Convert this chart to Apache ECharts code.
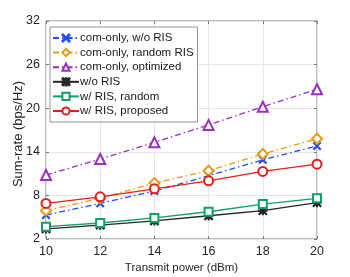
<!DOCTYPE html>
<html><head><meta charset="utf-8">
<script src="https://cdn.jsdelivr.net/npm/echarts@6/dist/echarts.min.js"></script>
<style>html,body{margin:0;padding:0;background:#fff}#c{width:350px;height:277px}</style>
</head><body><div id="c"></div>
<script>
const powers = [10, 12, 14, 16, 18, 20];
const xTicks = [10, 12, 14, 16, 18, 20];
const yTicks = [2, 8, 14, 20, 26, 32];
const seriesNames = ['com-only, w/o RIS', 'com-only, random RIS', 'com-only, optimized', 'w/o RIS', 'w/ RIS, random', 'w/ RIS, proposed'];
const comWoRIS = [5.3, 6.9, 8.6, 10.7, 12.9, 14.8];
const comRandom = [5.9, 7.6, 9.7, 11.4, 13.7, 15.8];
const comOpt = [10.8, 13.0, 15.3, 17.7, 20.2, 22.6];
const woRIS = [3.4, 3.9, 4.5, 5.2, 5.9, 7.0];
const wRandom = [3.7, 4.2, 4.9, 5.75, 6.8, 7.6];
const wProposed = [6.9, 7.8, 8.9, 10.0, 11.3, 12.3];

const X_PATH = 'path://M0,0.8L0.8,0L5,4.2L9.2,0L10,0.8L5.8,5L10,9.2L9.2,10L5,5.8L0.8,10L0,9.2L4.2,5Z';
const STAR_PATH = 'path://M0,0.8L0.8,0L5,4.2L9.2,0L10,0.8L5.8,5L10,9.2L9.2,10L5,5.8L0.8,10L0,9.2L4.2,5Z M4.5,0L5.5,0L5.5,10L4.5,10Z M0,4.5L10,4.5L10,5.5L0,5.5Z';

const dashDot = [6, 3, 1.5, 3];
const styles = [
  {c: '#1f4cff', sym: X_PATH, size: 7, dash: dashDot},
  {c: '#e89a14', sym: 'emptyDiamond', size: 10, dash: dashDot},
  {c: '#9b2dbf', sym: 'emptyTriangle', size: 10, dash: dashDot},
  {c: '#262626', sym: STAR_PATH, size: 8, dash: 'solid'},
  {c: '#10a065', sym: 'emptyRect', size: 8, dash: 'solid'},
  {c: '#e0201c', sym: 'emptyCircle', size: 9, dash: 'solid'}
];
const values = [comWoRIS, comRandom, comOpt, woRIS, wRandom, wProposed];

const font = 'Liberation Sans, Arial, sans-serif';
const series = values.map((v, i) => ({
  name: seriesNames[i],
  type: 'line',
  data: powers.map((p, j) => [p, v[j]]),
  symbol: styles[i].sym,
  symbolSize: styles[i].size,
  showAllSymbol: true,
  lineStyle: {color: styles[i].c, width: 1.3, type: styles[i].dash},
  itemStyle: {color: styles[i].c, borderColor: styles[i].c, borderWidth: 1.3},
  emphasis: {disabled: true},
  z: 3 + i
}));

const chart = echarts.init(document.getElementById('c'), null, {renderer: 'canvas'});
const baseX = {
  type: 'value', min: xTicks[0], max: xTicks[xTicks.length - 1], interval: xTicks[1] - xTicks[0]
};
const baseY = {
  type: 'value', min: yTicks[0], max: yTicks[yTicks.length - 1], interval: yTicks[1] - yTicks[0]
};
chart.setOption({
  animation: false,
  backgroundColor: '#fff',
  grid: {left: 46, right: 33, top: 21, bottom: 38, show: true, borderColor: '#7a7a7a', borderWidth: 1,
         containLabel: false, outerBoundsMode: 'none'},
  legend: {
    orient: 'vertical', left: 50, top: 27,
    data: seriesNames,
    itemWidth: 26, itemHeight: 9, itemGap: 2.6,
    padding: [5, 4, 5, 2],
    backgroundColor: '#fff', borderColor: '#7a7a7a', borderWidth: 0.8,
    textStyle: {fontFamily: font, fontSize: 11.5, color: '#1a1a1a', padding: [0, 0, 0, -4]}
  },
  xAxis: [
    Object.assign({}, baseX, {
      position: 'bottom',
      name: 'Transmit power (dBm)', nameLocation: 'middle', nameGap: 23,
      nameMoveOverlap: false,
      nameTextStyle: {fontFamily: font, fontSize: 11.5, color: '#262626'},
      axisLine: {show: false},
      axisTick: {show: true, inside: true, length: 3, lineStyle: {color: '#7a7a7a'}},
      axisLabel: {fontFamily: font, fontSize: 12.5, color: '#262626', margin: 6},
      splitLine: {show: true, lineStyle: {color: '#e6e6e6', width: 1}}
    }),
    Object.assign({}, baseX, {
      position: 'top',
      axisLine: {show: false},
      axisTick: {show: true, inside: true, length: 3, lineStyle: {color: '#7a7a7a'}},
      axisLabel: {show: false}, splitLine: {show: false}
    })
  ],
  yAxis: [
    Object.assign({}, baseY, {
      position: 'left',
      name: 'Sum-rate (bps/Hz)', nameLocation: 'middle', nameGap: 21,
      nameMoveOverlap: false,
      nameTextStyle: {fontFamily: font, fontSize: 13, color: '#262626', padding: [0, 8, 0, 0]},
      axisLine: {show: false},
      axisTick: {show: true, inside: true, length: 3, lineStyle: {color: '#7a7a7a'}},
      axisLabel: {fontFamily: font, fontSize: 12.5, color: '#262626', margin: 6},
      splitLine: {show: true, lineStyle: {color: '#e6e6e6', width: 1}}
    }),
    Object.assign({}, baseY, {
      position: 'right',
      axisLine: {show: false},
      axisTick: {show: true, inside: true, length: 3, lineStyle: {color: '#7a7a7a'}},
      axisLabel: {show: false}, splitLine: {show: false}
    })
  ],
  series: series
});
</script></body></html>
